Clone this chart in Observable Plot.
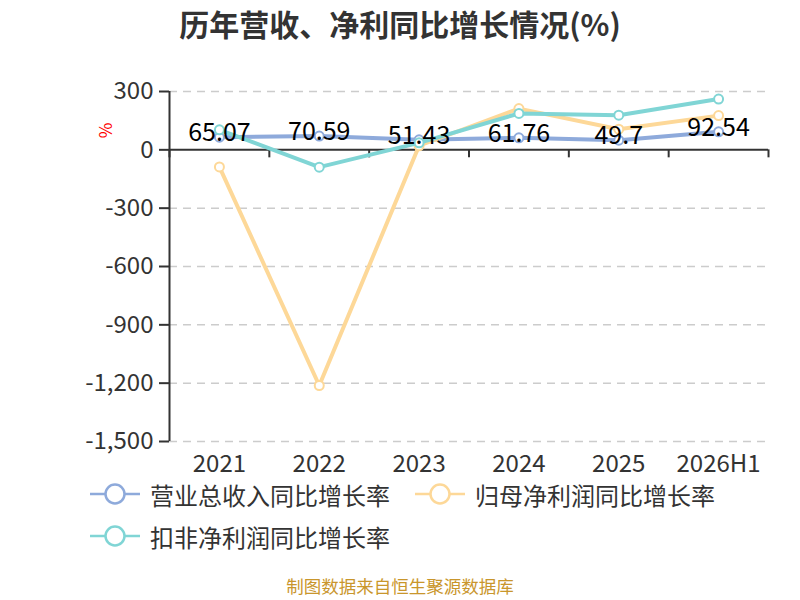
<!DOCTYPE html>
<html>
<head>
<meta charset="utf-8">
<script src="https://cdn.jsdelivr.net/npm/d3@7"></script>
<script src="https://cdn.jsdelivr.net/npm/@observablehq/plot@0.6"></script>
<style>
  html, body { margin: 0; padding: 0; background: #fff; }
  #wrap { position: relative; width: 800px; height: 600px; font-family: "Noto Sans CJK SC", "Noto Sans", sans-serif; overflow: hidden; }
  #title { position: absolute; left: 0; top: 1px; width: 800px; text-align: center; font-size: 30px; font-weight: bold; color: #333; }
  #chart { position: absolute; left: 0; top: 0; }
  #unit { position: absolute; left: 97px; top: 118px; color: #ff0000; font-size: 17px; transform: rotate(-90deg); }
  .leg { position: absolute; display: flex; align-items: center; font-size: 24px; color: #333; white-space: nowrap; }
  .leg svg { margin-right: 10px; }
  #footer { position: absolute; left: 0; top: 576px; width: 800px; height: 20px; line-height: 20px; text-align: center; font-size: 17.5px; color: #c9962c; }
</style>
</head>
<body>
<div id="wrap">
  <div id="title">历年营收、净利同比增长情况(%)</div>
  <div id="chart"></div>
  <div id="unit">%</div>
  <div id="legend"></div>
  <div id="footer">制图数据来自恒生聚源数据库</div>
</div>
<script>
const categories = ["2021", "2022", "2023", "2024", "2025", "2026H1"];
const revenueGrowth = [65.07, 70.59, 51.43, 61.76, 49.7, 92.54];
const netProfitGrowth = [-88, -1212, 21, 212, 106, 176];
const deductedProfitGrowth = [103, -89, 36, 187, 178, 261];
const yTicks = [300, 0, -300, -600, -900, -1200, -1500];
const seriesNames = ["营业总收入同比增长率", "归母净利润同比增长率", "扣非净利润同比增长率"];
const seriesColors = ["#8eaadb", "#fdd898", "#80d5d5"];

const seriesValues = [revenueGrowth, netProfitGrowth, deductedProfitGrowth];
const idx = categories.map((_, i) => i);
const bounds = d3.range(categories.length + 1).map(i => i - 0.5);

const series = seriesValues.map((vals, s) =>
  vals.map((v, i) => ({i, v, name: seriesNames[s]}))
);

const marks = [
  Plot.ruleY(yTicks.filter(d => d !== 0), {y: d => d, stroke: "#cccccc", strokeWidth: 1.5, strokeDasharray: "8,6"}),
  Plot.ruleX([bounds[0]], {x: d => d, y1: yTicks[0], y2: yTicks[yTicks.length - 1], stroke: "#333", strokeWidth: 2}),
  Plot.ruleY([0], {y: d => d, stroke: "#333", strokeWidth: 2}),
  Plot.ruleX(bounds, {x: d => d, y1: 0, y2: 0, insetBottom: -8, stroke: "#333", strokeWidth: 2}),
  Plot.axisY({ticks: yTicks, tickFormat: d => d.toLocaleString("en-US"), tickSize: 10, tickPadding: 6, fontSize: 24, color: "#333", label: null, strokeWidth: 2}),
  Plot.text(idx, {x: d => d, text: d => categories[d], frameAnchor: "bottom", dy: 30, fontSize: 24, fill: "#333"})
];
series.forEach((data, s) => {
  marks.push(Plot.line(data, {x: "i", y: "v", stroke: seriesColors[s], strokeWidth: 4}));
  marks.push(Plot.dot(data, {x: "i", y: "v", r: 4.5, fill: "#fff", stroke: seriesColors[s], strokeWidth: 2}));
});
marks.push(Plot.text(series[0], {x: "i", y: "v", text: d => String(d.v), dy: -4, fontSize: 25, fill: "#000"}));

const plot = Plot.plot({
  width: 800,
  height: 480,
  marginTop: 91,
  marginBottom: 39,
  marginLeft: 169,
  marginRight: 32,
  style: {fontFamily: '"Noto Sans CJK SC", "Noto Sans", sans-serif', background: "transparent", overflow: "visible"},
  x: {type: "linear", domain: [bounds[0], bounds[bounds.length - 1]], axis: null},
  y: {domain: [yTicks[yTicks.length - 1], yTicks[0]], axis: null},
  marks
});
document.getElementById("chart").appendChild(plot);

const legendPos = [[90, 494], [415, 494], [90, 536]];
const legend = document.getElementById("legend");
seriesNames.forEach((name, s) => {
  const div = document.createElement("div");
  div.className = "leg";
  div.style.left = legendPos[s][0] + "px";
  div.style.top = (legendPos[s][1] - 17) + "px";
  div.style.height = "34px";
  div.innerHTML = `<svg width="50" height="24"><line x1="0" y1="12" x2="50" y2="12" stroke="${seriesColors[s]}" stroke-width="2.5"/><circle cx="25" cy="12" r="9.5" fill="#fff" stroke="${seriesColors[s]}" stroke-width="2.5"/></svg><span>${name}</span>`;
  legend.appendChild(div);
});
</script>
</body>
</html>
